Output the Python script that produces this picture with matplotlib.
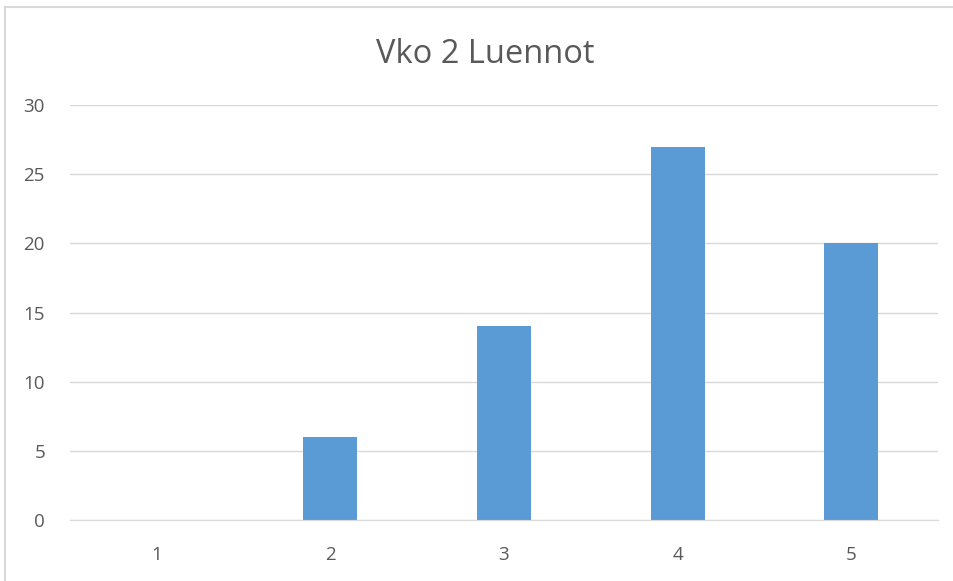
import matplotlib
matplotlib.use("Agg")
import matplotlib.pyplot as plt
from matplotlib.lines import Line2D

categories = ["1", "2", "3", "4", "5"]
values = [0, 6, 14, 27, 20]
yticks = [0, 5, 10, 15, 20, 25, 30]
title = "Vko 2 Luennot"

W, H = 954, 581
plt.rcParams['font.family'] = ['Open Sans', 'DejaVu Sans']
fig = plt.figure(figsize=(W / 100, H / 100), dpi=100)
# partial chart-area border (top and left visible)
fig.add_artist(Line2D([5.5 / W, 1.0], [1 - 6.5 / H, 1 - 6.5 / H], transform=fig.transFigure,
                      color='#d9d9d9', linewidth=1.5))
fig.add_artist(Line2D([5.5 / W, 5.5 / W], [0.0, 1 - 6.5 / H], transform=fig.transFigure,
                      color='#d9d9d9', linewidth=1.5))

ax = fig.add_axes([70 / W, 1 - 520 / H, (938 - 70) / W, (520 - 105) / H])
x = list(range(len(categories)))
ax.bar(x, values, width=0.31, color='#5B9BD5', zorder=3)
ax.set_xlim(-0.5, len(categories) - 0.5)
ax.set_ylim(0, 30)
ax.set_yticks(yticks)
ax.set_xticks(x)
ax.set_xticklabels(categories)
ax.grid(axis='y', color='#d9d9d9', linewidth=1, zorder=0)
for s in ['top', 'right', 'left']:
    ax.spines[s].set_visible(False)
ax.spines['bottom'].set_color('#d9d9d9')
ax.spines['bottom'].set_zorder(4)
ax.tick_params(axis='both', length=0, labelsize=13.5, labelcolor='#595959')
ax.tick_params(axis='x', pad=19)
ax.tick_params(axis='y', pad=18)
fig.text(485 / W, 1 - 63 / H, title, fontsize=23.5, color='#595959',
         ha='center', va='baseline')
fig.savefig("out.png", dpi=100)
